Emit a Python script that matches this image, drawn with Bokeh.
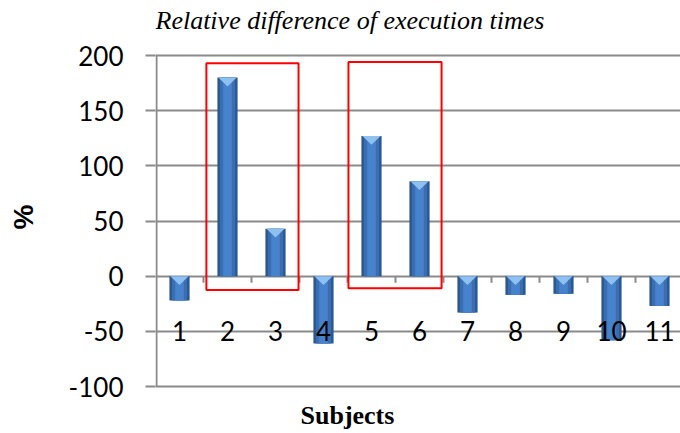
from bokeh.plotting import figure
from bokeh.models import Range1d, FixedTicker, Label, ColumnDataSource
from bokeh.core.properties import value
from bokeh.embed import file_html
from bokeh.resources import INLINE

# ---- data ----
subjects = ["1", "2", "3", "4", "5", "6", "7", "8", "9", "10", "11"]
rel_diff = [-22, 180, 43, -61, 127, 86, -33, -17, -16, -58, -27]
y_ticks = [-100, -50, 0, 50, 100, 150, 200]
# highlight boxes (left, right, bottom, top) in data units
box_left = [1.56, 4.52]
box_right = [3.48, 6.46]
box_bottom = [-12.5, -11]
box_top = [193, 194]

xs = list(range(1, len(subjects) + 1))

# layout: value axis from -100 (y=386px) to 200 (y=55px); frame covers whole height
H = 433
px_per_unit = (386 - 55) / (max(y_ticks) - min(y_ticks))
y_lo = min(y_ticks) - (H - 386) / px_per_unit
y_hi = max(y_ticks) + 55 / px_per_unit
x_lo, x_hi = 0.5, 0.5 + (680 - 155) / 48.0

p = figure(width=680, height=H, output_backend="svg", toolbar_location=None,
           x_range=Range1d(x_lo, x_hi), y_range=Range1d(y_lo, y_hi),
           x_axis_location=None,
           min_border_left=155, min_border_right=0, min_border_top=0, min_border_bottom=0)
p.title.visible = False
p.outline_line_color = None
p.background_fill_color = "white"
p.border_fill_color = "white"

grey = "#8a8a8a"
# grid
p.xgrid.visible = False
p.ygrid.ticker = FixedTicker(ticks=y_ticks)
p.ygrid.grid_line_color = grey
p.ygrid.grid_line_width = 2

# y axis
ya = p.yaxis[0]
ya.ticker = FixedTicker(ticks=y_ticks)
ya.major_label_overrides = {t: str(t) for t in y_ticks}
ya.axis_line_color = None
ya.major_tick_line_color = grey
ya.major_tick_line_width = 2
ya.major_tick_out = 10
ya.major_tick_in = 0
ya.minor_tick_line_color = None
ya.major_label_text_font = "Lato"
ya.major_label_text_font_size = "26px"
ya.major_label_text_color = "black"
ya.major_label_standoff = 22
ya.axis_label = "%"
ya.axis_label_text_font = "Liberation Sans"
ya.axis_label_text_font_style = "bold"
ya.axis_label_text_font_size = "28px"
ya.axis_label_text_color = "black"
ya.axis_label_standoff = 27
# axis line only over the value span
ax_x = x_lo + 1.0 / 48
p.segment(x0=[ax_x], x1=[ax_x], y0=[min(y_ticks)], y1=[max(y_ticks)],
          line_color=grey, line_width=2)

# bars (layers for a shaded look)
src = ColumnDataSource(dict(x=xs, v=rel_diff, top=[max(v, 0) for v in rel_diff]))
p.vbar(x="x", top="v", bottom=0, width=0.42, source=src,
       fill_color="#2b5691", line_color=None)
p.vbar(x="x", top="v", bottom=0, width=0.32, source=src,
       fill_color="#3a6eb0", line_color=None)
p.vbar(x="x", top="v", bottom=0, width=0.18, source=src,
       fill_color="#4683cc", line_color=None)
# bevel triangles at the top of each bar
tri_h = 8.0
tri_xs = [[x - 0.19, x + 0.19, x] for x in xs]
tri_ys = [[t, t, t - tri_h] for t in src.data["top"]]
p.patches(tri_xs, tri_ys, fill_color="#8ec0f0", line_color=None)

# x axis: ticks at category boundaries and labels
bounds = [x + 0.5 for x in xs[:-1]]
p.segment(x0=bounds, x1=bounds, y0=[0] * len(bounds), y1=[-6] * len(bounds),
          line_color=grey, line_width=2)
p.text(x=xs, y=[-50] * len(xs), text=subjects, text_font=value("Lato"),
       text_font_size="26px", text_align="center", text_baseline="middle",
       text_color="black")

# highlight boxes
p.quad(left=box_left, right=box_right, bottom=box_bottom, top=box_top,
       fill_color=None, line_color="#ff0000", line_width=2)

# titles (screen units, relative to the plot frame's bottom-left)
p.add_layout(Label(x=0, y=H - 20, x_units="screen", y_units="screen",
                   text="Relative difference of execution times",
                   text_font="Liberation Serif", text_font_style="italic",
                   text_font_size="26px", text_color="black",
                   text_baseline="middle", text_align="left"))
p.add_layout(Label(x=145, y=H - 415, x_units="screen", y_units="screen",
                   text="Subjects",
                   text_font="Liberation Serif", text_font_style="bold",
                   text_font_size="26px", text_color="black",
                   text_baseline="middle", text_align="left"))

open("out.html", "w").write(file_html(p, INLINE))
